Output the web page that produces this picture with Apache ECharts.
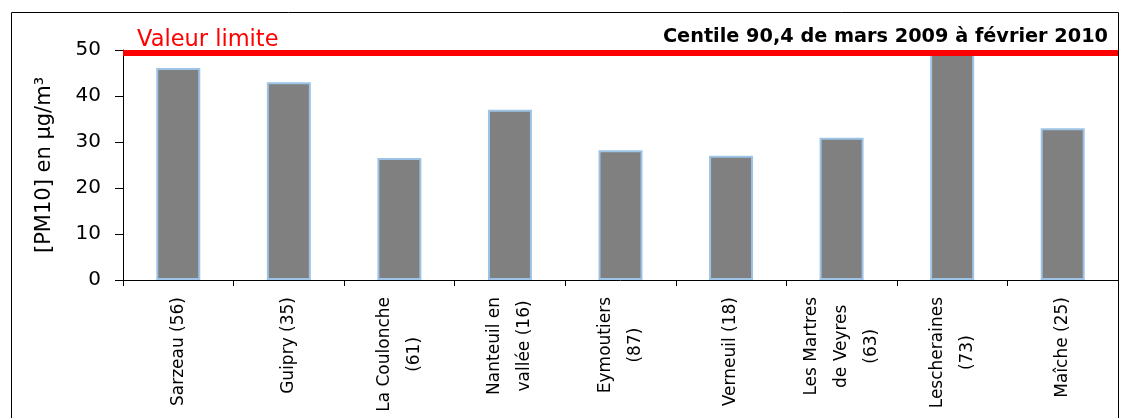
<!DOCTYPE html>
<html>
<head>
<meta charset="utf-8">
<script src="https://cdn.jsdelivr.net/npm/echarts@6/dist/echarts.min.js"></script>
<style>html,body{margin:0;padding:0;background:#fff}#c{width:1121px;height:418px}</style>
</head>
<body>
<div id="c"></div>
<script>
const categories = ['Sarzeau (56)', 'Guipry (35)', 'La Coulonche\n(61)', 'Nanteuil en\nvallée (16)', 'Eymoutiers\n(87)', 'Verneuil (18)', 'Les Martres\nde Veyres\n(63)', 'Lescheraines\n(73)', 'Maîche (25)'];
const values = [46.1, 43.0, 26.5, 37.0, 28.2, 27.0, 30.9, 49.6, 33.0];
const limitValue = 49.5;
const limitLabel = 'Valeur limite';
const titleText = 'Centile 90,4 de mars 2009 à février 2010';
const yAxisName = '[PM10] en µg/m³';
const yMin = 0, yMax = 50, yInterval = 10;

const FONT = 'DejaVu Sans';
const XFS = 17;
const ctx = document.createElement('canvas').getContext('2d');
ctx.font = XFS + 'px "' + FONT + '"';
// Build centred multi-line labels: each line is a rich token padded to the longest line's width.
const rich = {};
const labelMap = {};
categories.forEach((c, i) => {
  const lines = c.split('\n');
  const widths = lines.map(l => ctx.measureText(l).width);
  const L = Math.max.apply(null, widths);
  labelMap[c] = lines.map((l, j) => {
    const key = 't' + i + '_' + j;
    const p = (L - widths[j]) / 2;
    rich[key] = {fontFamily: FONT, fontSize: XFS, lineHeight: 30, color: '#000', padding: [0, p, 0, p]};
    return '{' + key + '|' + l + '}';
  }).join('\n');
});

const chart = echarts.init(document.getElementById('c'), null, {renderer: 'canvas'});
chart.setOption({
  animation: false,
  backgroundColor: '#fff',
  title: {
    text: titleText,
    right: 8,
    top: 22,
    textStyle: {fontFamily: FONT, fontSize: 19.3, fontWeight: 'bold', color: '#000'}
  },
  graphic: [{
    type: 'rect',
    shape: {x: 11.5, y: 12.5, width: 1107, height: 500},
    style: {fill: 'none', stroke: '#000', lineWidth: 1},
    silent: true, z: 100
  }],
  grid: {left: 123, right: 3, top: 50, bottom: 138, containLabel: false, outerBoundsMode: 'none'},
  xAxis: {
    type: 'category',
    data: categories,
    axisLine: {lineStyle: {color: '#000', width: 1}},
    axisTick: {show: true, length: 6, alignWithLabel: false, lineStyle: {color: '#000'}},
    axisLabel: {
      interval: 0,
      rotate: 90,
      margin: 17,
      hideOverlap: false,
      color: '#000',
      fontFamily: FONT,
      fontSize: XFS,
      formatter: v => labelMap[v],
      rich: rich
    }
  },
  yAxis: {
    type: 'value',
    min: yMin, max: yMax, interval: yInterval,
    name: yAxisName,
    nameLocation: 'middle',
    nameGap: 68,
    nameTextStyle: {fontFamily: FONT, fontSize: 21, color: '#000'},
    axisLine: {show: true, lineStyle: {color: '#000', width: 1}},
    axisTick: {show: true, length: 8, lineStyle: {color: '#000'}},
    axisLabel: {margin: 22, color: '#000', fontFamily: FONT, fontSize: 20},
    splitLine: {show: false}
  },
  series: [{
    type: 'bar',
    data: values,
    barWidth: 44,
    itemStyle: {color: '#808080', borderColor: '#9DC3E6', borderWidth: 2},
    markLine: {
      silent: true,
      symbol: ['none', 'none'],
      lineStyle: {color: '#FF0000', width: 6, type: 'solid'},
      label: {
        show: true,
        position: 'insideStartTop',
        formatter: limitLabel,
        color: '#FF0000',
        fontFamily: FONT,
        fontSize: 22.5,
        distance: [14, 1]
      },
      data: [{yAxis: limitValue}]
    }
  }]
});
</script>
</body>
</html>
